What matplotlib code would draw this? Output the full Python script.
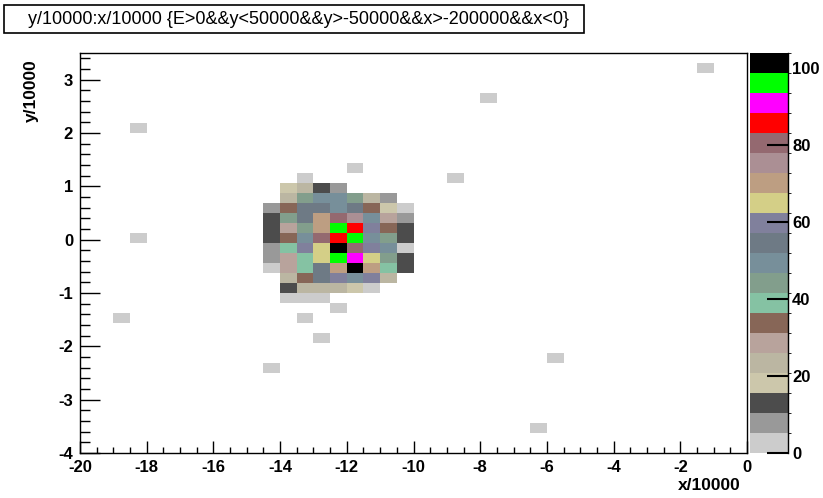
import numpy as np
import matplotlib
matplotlib.use("Agg")
import matplotlib.pyplot as plt
from matplotlib.colors import ListedColormap, BoundaryNorm
from matplotlib.ticker import MultipleLocator
from matplotlib.patches import Rectangle

plt.rcParams['font.family'] = ['Liberation Sans', 'DejaVu Sans']
plt.rcParams['axes.unicode_minus'] = False

# binning of the 2D histogram (40 x 40 bins)
x_edges = np.linspace(-20, 0, 41)
y_edges = np.linspace(-4, 3.5, 41)

# counts around the beam spot, rows from top (y ~ 1.16) downwards,
# columns from x = -14.25 to x = -10.25 (bin centres)
spot_x = [-14.25, -13.75, -13.25, -12.75, -12.25, -11.75, -11.25, -10.75, -10.25]
spot_y = [1.15625, 0.96875, 0.78125, 0.59375, 0.40625, 0.21875, 0.03125,
          -0.15625, -0.34375, -0.53125, -0.71875, -0.90625, -1.09375, -1.28125]
spot_counts = [
    [0,  0,  1,  0,  0,  0,  0,  0,  0],
    [0, 18, 23, 13,  8,  0,  0,  0,  0],
    [0, 23, 44, 49, 49, 44, 23,  8,  0],
    [8, 34, 55, 55, 49, 55, 34, 18,  1],
    [13, 44, 55, 70, 81, 75, 49, 29,  8],
    [13, 29, 44, 70, 96, 86, 60, 34, 13],
    [13, 34, 49, 81, 86, 96, 49, 44, 13],
    [8, 39, 60, 65, 99, 81, 60, 49,  1],
    [8, 29, 39, 65, 96, 91, 65, 44, 13],
    [1, 29, 39, 55, 70, 99, 70, 39, 13],
    [0, 23, 34, 55, 60, 49, 60, 23,  0],
    [0, 13, 23, 23, 23, 18,  1,  0,  0],
    [0,  1,  1,  1,  0,  0,  0,  0,  0],
    [0,  0,  0,  0,  1,  0,  0,  0,  0],
]

# single stray hits
hit_x = [-1.25, -7.75, -18.25, -11.75, -8.75, -18.25, -18.75, -13.25, -12.75, -14.25, -5.75, -6.25]
hit_y = [3.22, 2.66, 2.09, 1.34, 1.16, 0.03, -1.47, -1.47, -1.84, -2.41, -2.22, -3.53]
hit_w = [1, 1, 1, 1, 1, 1, 1, 1, 1, 1, 1, 1]

# old ROOT palette, 20 contour levels
palette = ['#cccccc', '#999999', '#4c4c4c', '#ccc7ab', '#bbb6a2', '#b8a39c',
           '#876657', '#85c2a3', '#829e8c', '#778f9a', '#6e7a85', '#80809c',
           '#d4cf87', '#bd9e82', '#ab8f94', '#946970', '#ff0000', '#ff00ff',
           '#00ff00', '#000000']

# fill the histogram
gx, gy = np.meshgrid(spot_x, spot_y)
all_x = np.concatenate([gx.ravel(), hit_x])
all_y = np.concatenate([gy.ravel(), hit_y])
all_w = np.concatenate([np.array(spot_counts, dtype=float).ravel(), hit_w])
H, _, _ = np.histogram2d(all_x, all_y, bins=[x_edges, y_edges], weights=all_w)
H = np.ma.masked_equal(H.T, 0)

zmax = 1.05 * H.max()
cmap = ListedColormap(palette)
norm = BoundaryNorm(np.linspace(0, zmax, 21), 20)

W, Hgt = 823, 498
fig = plt.figure(figsize=(W / 100, Hgt / 100), dpi=100)
ax = fig.add_axes([80 / W, 1 - 453 / Hgt, 667 / W, 400 / Hgt])
cax = fig.add_axes([750 / W, 1 - 453 / Hgt, 38 / W, 400 / Hgt])

mesh = ax.pcolormesh(x_edges, y_edges, H, cmap=cmap, norm=norm)
ax.set_xlim(-20, 0)
ax.set_ylim(-4, 3.5)

ax.xaxis.set_major_locator(MultipleLocator(2))
ax.xaxis.set_minor_locator(MultipleLocator(0.5))
ax.yaxis.set_major_locator(MultipleLocator(1))
ax.yaxis.set_minor_locator(MultipleLocator(0.2))
ax.tick_params(axis='both', which='both', direction='in', width=1.0,
               labelsize=12, top=False, right=False)
ax.tick_params(axis='x', which='major', length=8.6, pad=5)
ax.tick_params(axis='x', which='minor', length=4.3)
ax.tick_params(axis='y', which='major', length=14.4, pad=5)
ax.tick_params(axis='y', which='minor', length=7.2)
for lab in ax.get_xticklabels() + ax.get_yticklabels():
    lab.set_fontweight('bold')
for sp in ax.spines.values():
    sp.set_linewidth(1.0)

ax.set_xlabel('x/10000', fontsize=12.5, fontweight='bold', loc='right', labelpad=2)
ax.xaxis.label.set_position((0.99, 0))
ax.set_ylabel('y/10000', fontsize=12.5, fontweight='bold', loc='top', labelpad=14)
ax.yaxis.label.set_position((0, 0.985))

cb = fig.colorbar(mesh, cax=cax, ticks=[0, 20, 40, 60, 80, 100])
cb.outline.set_visible(False)
cax.plot([1, 1], [0, 1], transform=cax.transAxes, color='black', lw=1.0, clip_on=False)
cax.tick_params(direction='in', length=15, width=1.5, labelsize=12, pad=3)
for lab in cax.get_yticklabels():
    lab.set_fontweight('bold')

# title box
fig.patches.append(Rectangle((4 / W, 1 - 33 / Hgt), 580 / W, 28 / Hgt,
                             transform=fig.transFigure, fill=False,
                             edgecolor='black', lw=1.2))
fig.text(299 / W, 1 - 19.5 / Hgt,
         'y/10000:x/10000 {E>0&&y<50000&&y>-50000&&x>-200000&&x<0}',
         ha='center', va='center', fontsize=13)

fig.savefig('out.png', dpi=100)
